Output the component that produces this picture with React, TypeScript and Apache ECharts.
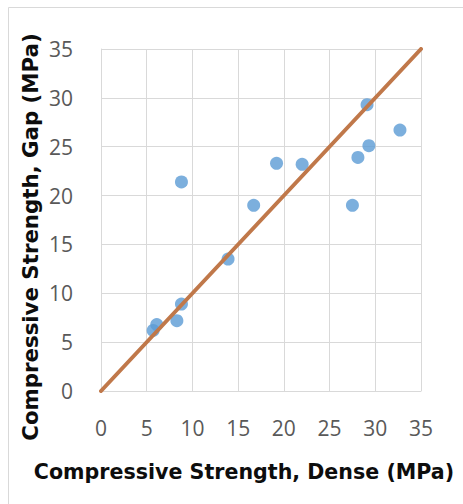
import React, { useEffect, useRef } from "react";
import * as echarts from "echarts";

const denseValues = [5.7, 6.1, 8.3, 8.8, 8.8, 13.9, 16.7, 19.2, 22.0, 27.5, 28.1, 29.1, 29.3, 32.7];
const gapValues = [6.2, 6.8, 7.2, 8.9, 21.4, 13.5, 19.0, 23.3, 23.2, 19.0, 23.9, 29.3, 25.1, 26.7];
const lineX = [0, 35];
const lineY = [0, 35];
const xTitle = "Compressive Strength, Dense (MPa)";
const yTitle = "Compressive Strength, Gap (MPa)";

export default function App() {
  const ref = useRef<HTMLDivElement>(null);
  useEffect(() => {
    if (!ref.current) return;
    const chart = echarts.init(ref.current, null, { renderer: "svg" });
    const axisCommon = {
      type: "value" as const,
      min: 0,
      max: 35,
      interval: 5,
      axisLine: { show: true, lineStyle: { color: "#d9d9d9", width: 1 } },
      axisTick: { show: false },
      splitLine: { show: true, lineStyle: { color: "#d9d9d9", width: 1 } },
      axisLabel: { color: "#595959", fontFamily: "Open Sans", fontSize: 21 },
    };
    chart.setOption({
      animation: false,
      backgroundColor: "#ffffff",
      grid: { left: 101, right: 42, top: 49, bottom: 113, containLabel: false },
      xAxis: { ...axisCommon, axisLabel: { ...axisCommon.axisLabel, margin: 26 } },
      yAxis: { ...axisCommon, axisLabel: { ...axisCommon.axisLabel, margin: 28 } },
      graphic: [
        {
          type: "rect",
          shape: { x: 8.5, y: 7.5, width: 480, height: 520 },
          style: { fill: "none", stroke: "#d9d9d9", lineWidth: 1 },
          z: 0,
        },
        {
          type: "text",
          x: 244,
          y: 472,
          style: {
            text: xTitle,
            font: "bold 20.6px 'DejaVu Sans'",
            fill: "#0d0d0d",
            textAlign: "center",
            textVerticalAlign: "middle",
          },
        },
        {
          type: "text",
          x: 30,
          y: 237,
          rotation: Math.PI / 2,
          style: {
            text: yTitle,
            font: "bold 21.3px 'DejaVu Sans'",
            fill: "#0d0d0d",
            textAlign: "center",
            textVerticalAlign: "middle",
          },
        },
      ],
      series: [
        {
          type: "scatter",
          data: denseValues.map((x, i) => [x, gapValues[i]]),
          symbolSize: 13,
          itemStyle: { color: "#5B9BD5" },
          z: 2,
        },
        {
          type: "line",
          data: lineX.map((x, i) => [x, lineY[i]]),
          showSymbol: false,
          symbol: "none",
          lineStyle: { color: "#C0784A", width: 4, cap: "round" },
          z: 3,
        },
      ],
    });
    return () => chart.dispose();
  }, []);
  return (
    <div
      ref={ref}
      style={{ position: "fixed", left: 0, top: 0, width: 463, height: 504 }}
    />
  );
}
